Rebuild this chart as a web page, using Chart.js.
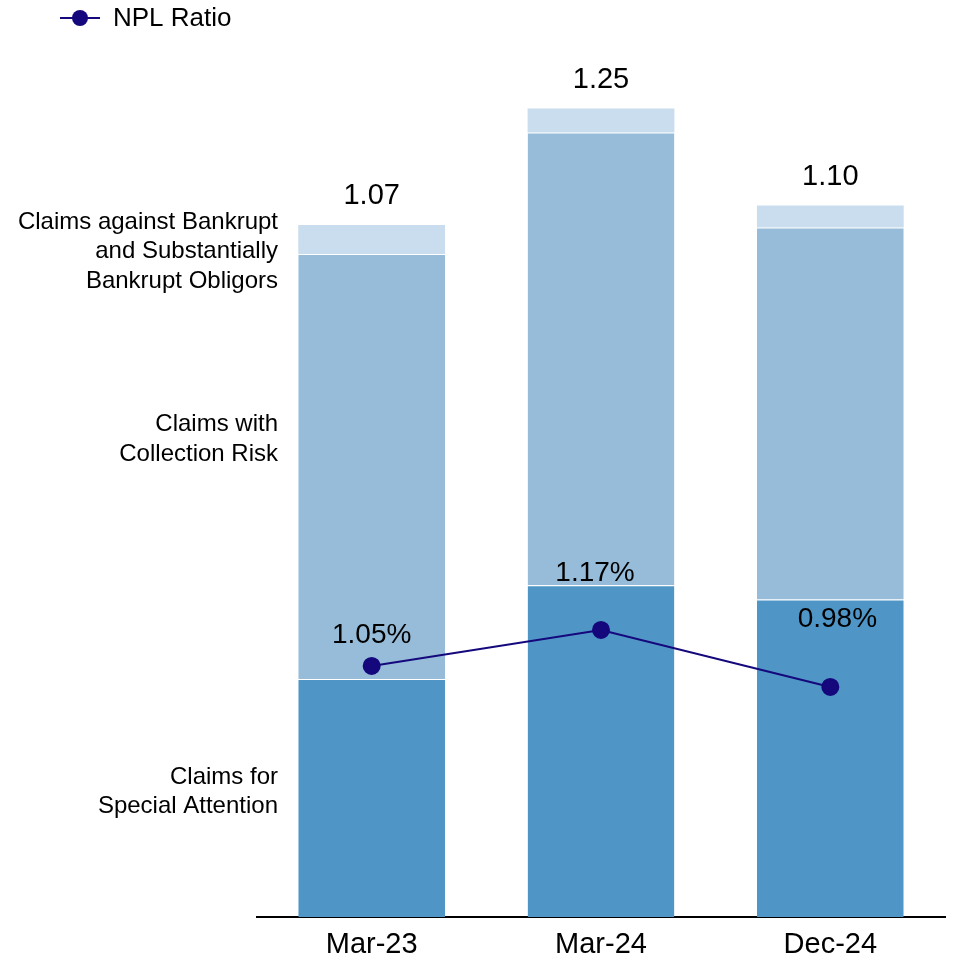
<!DOCTYPE html>
<html lang="en">
<head>
    <meta charset="utf-8">
    <title>NPL Ratio</title>
    <script src="https://cdn.jsdelivr.net/npm/chart.js"></script>
    <style>
        html, body {
            margin: 0;
            padding: 0;
            background: #ffffff;
            overflow: hidden;
        }
        canvas {
            display: block;
        }
    </style>
</head>
<body>
    <canvas id="nplChart" width="955" height="961"></canvas>

    <script>
        // Data
        const periods = ['Mar-23', 'Mar-24', 'Dec-24'];
        const specialAttention = [0.368, 0.513, 0.491];
        const collectionRisk = [0.657, 0.700, 0.575];
        const bankrupt = [0.045, 0.037, 0.034];
        const totalLabels = ['1.07', '1.25', '1.10'];
        const nplRatio = [1.05, 1.17, 0.98];

        const seriesNames = [
            ['Claims for', 'Special Attention'],
            ['Claims with', 'Collection Risk'],
            ['Claims against Bankrupt', 'and Substantially', 'Bankrupt Obligors']
        ];

        const FONT = '"Liberation Sans", Arial, sans-serif';
        const NAVY = '#14087c';

        // label offsets (px) for the NPL % labels, relative to each point
        const pctOffsets = [[0, -31], [-6, -57], [7, -68]];
        // vertical nudge of the left-side series names vs. first bar segments
        const nameOffsets = [-6, -27, 12];

        const labelPlugin = {
            id: 'labelPlugin',
            afterDatasetsDraw(chart) {
                const c = chart.ctx;
                const xs = chart.scales.x;
                const ys = chart.scales.y;
                const y1 = chart.scales.y1;
                c.save();
                c.fillStyle = '#000000';

                // totals above the bars
                c.font = '29px ' + FONT;
                c.textAlign = 'center';
                c.textBaseline = 'middle';
                periods.forEach((p, i) => {
                    const total = specialAttention[i] + collectionRisk[i] + bankrupt[i];
                    c.fillText(totalLabels[i], xs.getPixelForValue(i), ys.getPixelForValue(total) - 29);
                });

                // NPL ratio labels
                c.font = '28px ' + FONT;
                nplRatio.forEach((v, i) => {
                    c.fillText(v.toFixed(2) + '%',
                        xs.getPixelForValue(i) + pctOffsets[i][0],
                        y1.getPixelForValue(v) + pctOffsets[i][1]);
                });

                // series names on the left
                c.font = '24px ' + FONT;
                c.textAlign = 'right';
                const segs = [specialAttention, collectionRisk, bankrupt];
                let base = 0;
                segs.forEach((s, k) => {
                    const mid = ys.getPixelForValue(base + s[0] / 2) + nameOffsets[k];
                    base += s[0];
                    const lines = seriesNames[k];
                    const lh = 29.5;
                    lines.forEach((t, j) => {
                        c.fillText(t, 278, mid + (j - (lines.length - 1) / 2) * lh);
                    });
                });

                // legend
                c.strokeStyle = NAVY;
                c.lineWidth = 2;
                c.beginPath();
                c.moveTo(60, 18);
                c.lineTo(100, 18);
                c.stroke();
                c.fillStyle = NAVY;
                c.beginPath();
                c.arc(80, 18, 8, 0, Math.PI * 2);
                c.fill();
                c.fillStyle = '#000000';
                c.font = '26px ' + FONT;
                c.textAlign = 'left';
                c.fillText('NPL Ratio', 113, 19);
                c.restore();
            }
        };

        const ctx = document.getElementById('nplChart').getContext('2d');
        const segBorder = { top: 1, left: 0, right: 0, bottom: 0 };

        new Chart(ctx, {
            type: 'bar',
            data: {
                labels: periods,
                datasets: [
                    {
                        type: 'line',
                        label: 'NPL Ratio',
                        data: nplRatio,
                        yAxisID: 'y1',
                        borderColor: NAVY,
                        backgroundColor: NAVY,
                        borderWidth: 2,
                        pointRadius: 8,
                        pointHoverRadius: 8,
                        tension: 0,
                        order: 0
                    },
                    {
                        label: 'Claims for Special Attention',
                        data: specialAttention,
                        backgroundColor: '#4f96c7',
                        borderColor: 'rgba(255,255,255,0.5)',
                        borderWidth: segBorder,
                        borderSkipped: false,
                        stack: 's',
                        order: 1
                    },
                    {
                        label: 'Claims with Collection Risk',
                        data: collectionRisk,
                        backgroundColor: '#96bcd9',
                        borderColor: 'rgba(255,255,255,0.5)',
                        borderWidth: segBorder,
                        borderSkipped: false,
                        stack: 's',
                        order: 1
                    },
                    {
                        label: 'Claims against Bankrupt and Substantially Bankrupt Obligors',
                        data: bankrupt,
                        backgroundColor: '#c9ddee',
                        borderWidth: 0,
                        stack: 's',
                        order: 1
                    }
                ]
            },
            options: {
                responsive: false,
                animation: false,
                layout: {
                    padding: { left: 257, right: 5, top: 60, bottom: 0 }
                },
                datasets: {
                    bar: { categoryPercentage: 0.8, barPercentage: 0.8 }
                },
                scales: {
                    x: {
                        stacked: true,
                        grid: { display: false, drawTicks: false },
                        border: { display: true, color: '#000000', width: 2 },
                        ticks: {
                            color: '#000000',
                            font: { family: FONT, size: 29 },
                            padding: 11
                        },
                        afterFit(scale) { scale.height = 44; }
                    },
                    y: {
                        display: false,
                        stacked: true,
                        min: 0,
                        max: 1.325
                    },
                    y1: {
                        display: false,
                        min: 0.213,
                        max: 3.07
                    }
                },
                plugins: {
                    legend: { display: false },
                    tooltip: { enabled: false }
                }
            },
            plugins: [labelPlugin]
        });
    </script>
</body>
</html>
